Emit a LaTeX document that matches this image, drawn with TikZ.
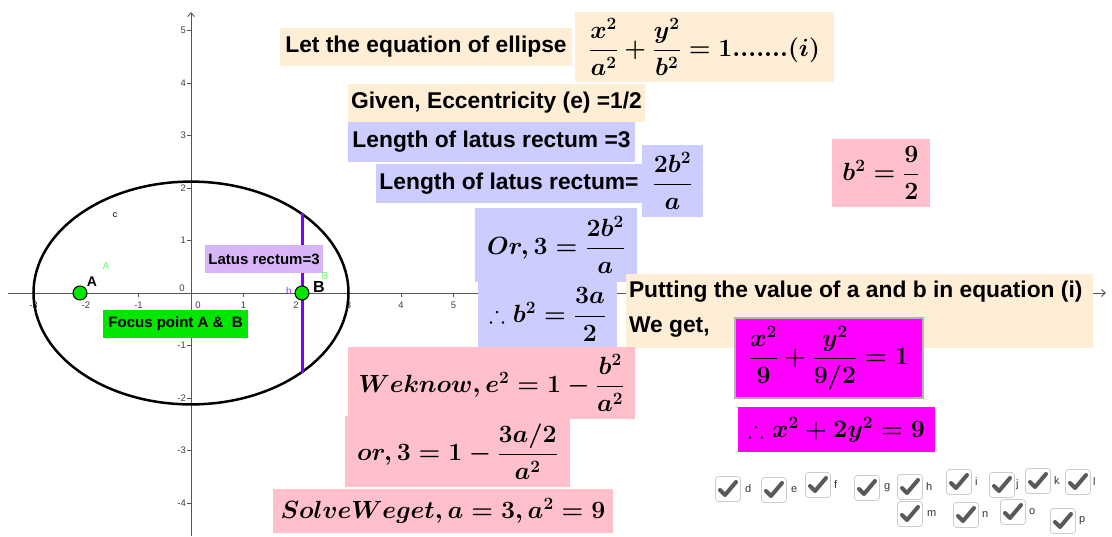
\documentclass[tikz,border=0pt]{standalone}
\usepackage[no-math]{fontspec}
\setmainfont{Liberation Sans}
\usepackage{amsmath,amssymb}
\usetikzlibrary{arrows.meta}
\definecolor{beige}{HTML}{FFEED6}
\definecolor{lav}{HTML}{CCCCFF}
\definecolor{pinkb}{HTML}{FFC0CB}
\definecolor{mag}{HTML}{FF00FF}
\definecolor{latus}{HTML}{D7B5F7}
\definecolor{ptgreen}{HTML}{00E600}
\definecolor{axisgray}{HTML}{555555}
\definecolor{lrline}{HTML}{7F00FF}
\definecolor{lgreen}{HTML}{66FF66}
\definecolor{lpurple}{HTML}{9933FF}
\tikzset{
  bx/.style={rectangle, inner sep=0pt, outer sep=0pt, font=\fontsize{22.8}{26}\selectfont\bfseries},
  sbx/.style={rectangle, inner sep=0pt, outer sep=0pt, font=\fontsize{15}{17}\selectfont\bfseries},
  mbx/.style={rectangle, inner sep=0pt, outer sep=0pt, font=\fontsize{24}{28}\selectfont\boldmath},
  ticklab/.style={font=\fontsize{9.5}{11}\selectfont, text=black!75, inner sep=0pt},
  cbox/.style={draw=black!20, fill=white, rounded corners=3pt, minimum size=25pt, inner sep=0pt, line width=0.8pt},
  cblab/.style={font=\fontsize{11}{13}\selectfont, text=black!80, anchor=west, inner sep=0pt},
  chk/.style={draw=black!65, line width=4pt, line cap=round, line join=round},
  pt/.style={circle, fill=ptgreen, draw=black, line width=1pt, minimum size=14pt, inner sep=0pt},
  axisline/.style={draw=axisgray, line width=0.9pt},
}
\begin{document}
\begin{tikzpicture}[x=1pt,y=-1pt]
\useasboundingbox (0,0) rectangle (1112,536);
% axes
\coordinate (xl) at (8,293);
\coordinate (xr) at (1106,293);
\coordinate (yb) at (191,536);
\coordinate (yt) at (191,12);
\draw[axisline, -{Straight Barb[length=4pt,width=7pt]}] (xl) -- (xr);
\draw[axisline, -{Straight Barb[length=4pt,width=7pt]}] (yb) -- (yt);
\foreach \k in {-3,...,5} \draw[axisline] (191+52.5*\k,293) -- ++(0,4);
\foreach \k in {-4,...,5} \draw[axisline] (191,293-52.5*\k) -- ++(-4,0);
\foreach \k in {-3,-2,-1,1,2,3,4,5} \node[ticklab] (xt\k) at (191+52.5*\k,305) {\k};
\foreach \k in {-4,-3,-2,-1,1,2,3,4,5} \node[ticklab, anchor=east] (yt\k) at (186,293-52.5*\k) {\k};
\node[ticklab] (o1) at (198,305) {0};
\node[ticklab] (o2) at (182,288) {0};
% ellipse
\draw[line width=2.5pt] (191,293) ellipse [x radius=157.5, y radius=111.4];
% latus rectum line
\coordinate (lt) at (302,213);
\coordinate (lb) at (302,373);
\draw[draw=lrline, line width=3pt] (lt) -- (lb);
% boxes
\node[bx, fill=beige, minimum width=292pt, minimum height=38pt] (t1) at (426,47) {Let the equation of ellipse};
\node[mbx, fill=beige, minimum width=259pt, minimum height=70pt] (f1) at (704.5,47) {$\dfrac{x^2}{a^2}+\dfrac{y^2}{b^2}=1.......(i)$};
\node[bx, fill=beige, minimum width=297pt, minimum height=38pt] (t2) at (496.5,103) {Given, Eccentricity (e) =1/2};
\node[bx, fill=lav, minimum width=287pt, minimum height=40pt] (t3) at (491.5,142) {Length of latus rectum =3};
\node[bx, fill=lav, minimum width=266pt, minimum height=39pt] (t4) at (509,183.5) {Length of latus rectum=};
\node[mbx, fill=lav, minimum width=61pt, minimum height=72pt] (f4) at (672.5,181) {$\dfrac{2b^2}{a}$};
\node[mbx, fill=lav, minimum width=162pt, minimum height=74pt] (f5) at (556,245) {$Or,3=\dfrac{2b^2}{a}$};
\node[mbx, fill=lav, minimum width=139pt, minimum height=65pt] (f6) at (547.5,314.5) {$\therefore b^2=\dfrac{3a}{2}$};
\node[mbx, fill=pinkb, minimum width=98pt, minimum height=68pt] (f7) at (881,173) {$b^2=\dfrac{9}{2}$};
\node[rectangle, fill=beige, minimum width=467pt, minimum height=74pt, inner sep=0pt] (pv) at (859.5,311) {};
\node[bx, anchor=west] (pvt1) at (629,292) {Putting the value of a and b in equation (i)};
\node[bx, anchor=west] (pvt2) at (629,327) {We get,};
\node[mbx, fill=mag, draw=black!30, line width=1.2pt, minimum width=188pt, minimum height=80pt] (f8) at (829,358) {$\dfrac{x^2}{9}+\dfrac{y^2}{9/2}=1$};
\node[mbx, fill=mag, minimum width=197pt, minimum height=45pt] (f9) at (836.5,429.5) {$\therefore x^2+2y^2=9$};
\node[mbx, fill=pinkb, minimum width=287pt, minimum height=72pt] (f10) at (491.5,383) {$Weknow,e^2=1-\dfrac{b^2}{a^2}$};
\node[mbx, fill=pinkb, minimum width=225pt, minimum height=71pt] (f11) at (457.5,451.5) {$or,3=1-\dfrac{3a/2}{a^2}$};
\node[mbx, fill=pinkb, minimum width=340pt, minimum height=44pt] (f12) at (443,511) {$SolveWeget,a=3,a^2=9$};
\node[sbx, fill=latus, minimum width=118pt, minimum height=28pt] (lr) at (264,259) {Latus rectum=3};
\node[sbx, fill=ptgreen, minimum width=145pt, minimum height=28pt] (fc) at (175.5,324) {Focus point A \&\ \ B};
% points
\node[pt] (A) at (80,293) {};
\node[pt] (B) at (302,293) {};
\node[font=\fontsize{14}{16}\selectfont\bfseries, inner sep=0pt] (Al) at (92,282) {A};
\node[font=\fontsize{16}{18}\selectfont\bfseries, inner sep=0pt] (Bl) at (319,287) {B};
\node[font=\fontsize{10}{12}\selectfont, text=lgreen, inner sep=0pt] (Ag) at (106,266) {A};
\node[font=\fontsize{10}{12}\selectfont, text=lgreen, inner sep=0pt] (Bg) at (325,276) {B};
\node[font=\fontsize{10}{12}\selectfont, text=lpurple, inner sep=0pt] (bl) at (289,291) {b};
\node[font=\fontsize{9}{11}\selectfont, inner sep=0pt] (cl) at (115,215) {c};
% checkboxes
\foreach \n/\cx/\cy/\dx in {d/728/489/20, e/774/490/20, f/818/485/19, g/867/488/20, h/910/487/19, i/959/482/19, j/1002/485/17, k/1038/481/19, l/1078/482/18, m/910/514/20, n/966/515/19, o/1013/512/19, p/1063/521/19}{
  \node[cbox] (cb\n) at (\cx,\cy) {};
  \draw[chk] (\cx-8,\cy+1) -- (\cx-3,\cy+6) -- (\cx+8,\cy-7);
  \node[cblab] (cbl\n) at (\cx+\dx-3,\cy) {\n};
}
\end{tikzpicture}
\end{document}
